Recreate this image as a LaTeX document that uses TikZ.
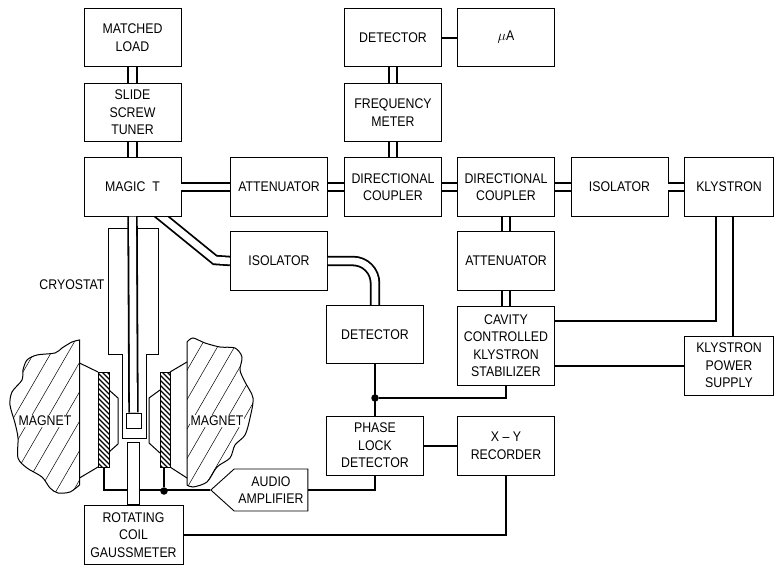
\documentclass[tikz,border=0pt]{standalone}
\usepackage{fontspec}
\setmainfont[FakeStretch=0.88]{Liberation Sans}
\usetikzlibrary{backgrounds, shapes.symbols}

\begin{document}
\begin{tikzpicture}[
  x=1pt, y=-1pt, line join=miter,
  font=\fontsize{14}{17.5}\selectfont,
  blk/.style={draw, line width=0.9pt, fill=white, align=center, inner sep=0pt,
              minimum width=97pt, minimum height=58.5pt},
  wider/.style={blk, minimum width=89pt},
  wire/.style={line width=2pt},
  guide/.style={line width=1.8pt, double=white, double distance=6.8pt},
  outline/.style={line width=1pt},
  hatch/.style={line width=0.5pt},
  dot/.style={circle, fill=black, inner sep=0pt, minimum size=7.5pt}
]
\useasboundingbox (0,0) rectangle (774,565);

% left column
\node[blk] (load) at (132.5, 37.5) {MATCHED\\LOAD};
\node[blk] (tuner) at (132.5, 112.5) {SLIDE\\SCREW\\TUNER};
\node[blk] (magic) at (132.5, 187) {MAGIC\enspace T};

% top row
\node[blk] (det1) at (393, 37.5) {DETECTOR};
\node[blk] (meter) at (393, 112.5) {FREQUENCY\\METER};
\node[blk] (micro) at (506, 37.5) {$\mu$A};

% waveguide row
\node[blk] (att1) at (279, 187) {ATTENUATOR};
\node[blk] (dc1) at (393, 187) {DIRECTIONAL\\COUPLER};
\node[blk] (dc2) at (506, 187) {DIRECTIONAL\\COUPLER};
\node[blk] (iso1) at (619.5, 187) {ISOLATOR};
\node[wider] (klys) at (729, 187) {KLYSTRON};

\node[blk] (iso2) at (279, 261) {ISOLATOR};
\node[blk] (att2) at (506, 261) {ATTENUATOR};
\node[blk] (det2) at (375, 334.5) {DETECTOR};
\node[blk, minimum height=79pt] (stab) at (506, 345.5)
  {CAVITY\\CONTROLLED\\KLYSTRON\\STABILIZER};
\node[wider, minimum height=59pt] (power) at (729, 365.5)
  {KLYSTRON\\POWER\\SUPPLY};
\node[blk, minimum height=59pt] (phase) at (375, 445.5)
  {PHASE\\LOCK\\DETECTOR};
\node[blk, minimum height=59pt] (rec) at (506, 445.5) {X -- Y\\RECORDER};

\node[signal, signal to=west, signal pointer angle=84, draw, line width=0.9pt,
      align=center, inner sep=1pt, minimum width=97pt, minimum height=42pt]
  (amp) at (271, 490) {AUDIO\\AMPLIFIER};

\node (cryolabel) at (72, 285) {CRYOSTAT};

% magnets
\def\magnetleft{(79.5,340) (72,342) (62,348) (55,353) (37,355) (27,360) (23,370) (22,380)
  (12,392) (10,405) (15,423) (18,438) (18,458) (27,468) (42,477) (50,488) (58,493)
  (70,492) (79.5,485)}
\def\magnetright{(187,342) (193,338) (205,343) (220,347) (235,348) (242,357) (240,370)
  (245,382) (253,398) (250,418) (245,435) (235,445) (230,458) (217,467) (207,482)
  (193,487) (187,485)}
\begin{scope}
  \clip plot[smooth] coordinates {\magnetleft} -- cycle;
  \foreach \i in {-85,-68,...,85}
    \draw[hatch] (\i,500) -- ++(100,-173);
\end{scope}
\begin{scope}
  \clip plot[smooth] coordinates {\magnetright} -- cycle;
  \foreach \i in {95,112,...,255}
    \draw[hatch] (\i,500) -- ++(100,-173);
\end{scope}
\draw[outline] plot[smooth] coordinates {\magnetleft} -- cycle;
\draw[outline] plot[smooth] coordinates {\magnetright} -- cycle;
\node[fill=white, inner sep=1pt] (magnet1) at (45, 421) {MAGNET};
\node[fill=white, inner sep=1pt] (magnet2) at (217, 421) {MAGNET};

% pole pieces
\draw[outline] (79.5,363) -- (98,372) (98,467) -- (79.5,478);
\draw[outline] (109,390) -- (118,398) -- (118,444) -- (109,452);
\draw[outline] (187,362) -- (170,372) (170,467) -- (187,478);
\draw[outline] (160,390) -- (149,398) -- (149,443) -- (160,453);

% coils
\begin{scope}
  \clip (98,372) rectangle (109,467) (160,372) rectangle (170,467);
  \foreach \i in {270,275,...,470}
    \draw[line width=1.2pt] (90,\i) -- ++(90,90);
\end{scope}
\node[draw, line width=1pt, inner sep=0pt, minimum width=11pt, minimum height=95pt]
  (coil1) at (103.5, 419.5) {};
\node[draw, line width=1pt, inner sep=0pt, minimum width=10pt, minimum height=95pt]
  (coil2) at (165, 419.5) {};

% cryostat
\draw[outline] (108,228) -- (108,354) -- (122,354) -- (122,438)
  -- (146,438) -- (146,354) -- (158,354) -- (158,228) -- cycle;
\node[draw, line width=1pt, fill=white, inner sep=0pt, minimum width=15pt, minimum height=15pt]
  (sample) at (133.5, 420.5) {};

% connections
\draw[guide] (load) -- (tuner);
\draw[guide] (tuner) -- (magic);
\draw[guide] (magic) -- (att1);
\draw[guide] (att1) -- (dc1);
\draw[guide] (dc1) -- (dc2);
\draw[guide] (dc2) -- (iso1);
\draw[guide] (iso1) -- (klys);
\draw[guide] (det1) -- (meter);
\draw[guide] (meter) -- (dc1);
\draw[guide] (dc2) -- (att2);
\draw[guide] (att2) -- (stab);
\draw[guide] (magic.south) -- (sample.north);
\begin{scope}[on background layer]
  \draw[guide] ([xshift=17pt, yshift=10pt]magic.south) -- (215,260) -- (iso2.west);
\end{scope}
\draw[guide, rounded corners=22pt] (iso2.east) -| (det2.north);

\draw[wire] (det1) -- (micro);
\draw[wire] (det2) -- (phase);
\draw[wire] (phase) -- (rec);
\node[dot] (junction1) at (375, 398) {};
\draw[wire] (stab.south) |- (junction1);
\draw[wire] ([yshift=24.5pt]stab.east) -| ([xshift=-13pt]klys.south);
\draw[wire] (stab.east |- power.west) -- (power.west);
\draw[wire] ([xshift=3.5pt]power.north) -- ([xshift=3.5pt]klys.south);

% coil leads
\node[dot] (junction2) at (164, 491) {};
\draw[wire] (coil1.south) |- (amp.west);
\draw[wire] (coil2.south -| junction2) -- (junction2);
\draw[wire] (amp.east) -| (phase.south);

% gaussmeter
\node[blk, minimum width=99pt] (gauss) at (133.5, 535)
  {ROTATING\\COIL\\GAUSSMETER};
\node[draw, line width=1pt, fill=white, inner sep=0pt, minimum width=12pt, minimum height=62pt, anchor=south]
  (probe) at (gauss.north) {};
\draw[wire] (gauss.east) -| (rec.south);

\end{tikzpicture}
\end{document}
